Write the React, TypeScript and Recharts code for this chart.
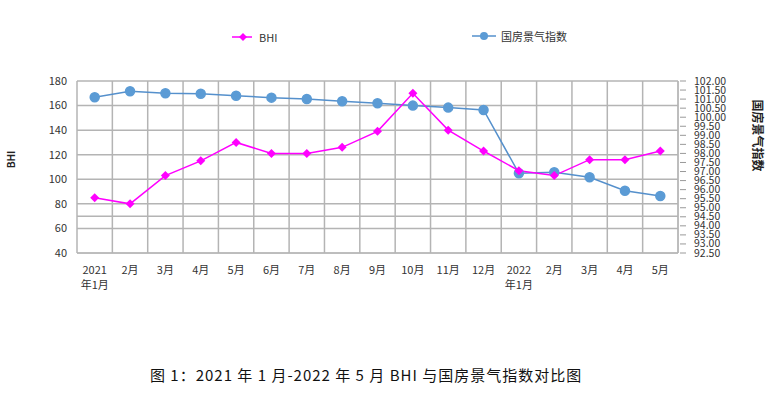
import { LineChart, Line, XAxis, YAxis, CartesianGrid, ReferenceLine } from 'recharts';

const months = [
  '2021\n年1月', '2月', '3月', '4月', '5月', '6月', '7月', '8月', '9月',
  '10月', '11月', '12月', '2022\n年1月', '2月', '3月', '4月', '5月',
];
const bhi = [85, 80, 103, 115, 130, 121, 121, 126, 139, 170, 140, 123, 107, 103, 116, 116, 123];
const guofang = [
  101.1, 101.43, 101.32, 101.3, 101.19, 101.08, 101.01, 100.88, 100.77,
  100.64, 100.53, 100.4, 96.9, 96.96, 96.68, 95.94, 95.65,
];
const leftTicks = [40, 60, 80, 100, 120, 140, 160, 180];
const rightTicks = [
  92.5, 93, 93.5, 94, 94.5, 95, 95.5, 96, 96.5, 97, 97.5, 98, 98.5, 99, 99.5,
  100, 100.5, 101, 101.5, 102,
];
// stray extra gridline visible in the original
const extraGridY = 70;

const data = months.map((m, i) => ({ month: m, bhi: bhi[i], gf: guofang[i] }));

const FONT = '"Noto Sans CJK SC", "Noto Sans", sans-serif';
const TXT = '#333';
const GRID = '#b4b4b4';

function MonthTick({ x, y, payload }: any) {
  const lines = String(payload.value).split('\n');
  return (
    <text x={x} y={y + 13} textAnchor="middle" fontSize={11} fill={TXT} fontFamily={FONT}>
      {lines.map((l, i) => (
        <tspan key={i} x={x} dy={i === 0 ? 0 : 15}>
          {l}
        </tspan>
      ))}
    </text>
  );
}

function RightTick({ x, y, payload }: any) {
  return (
    <g>
      <line x1={x - 6} x2={x} y1={y} y2={y} stroke="#999" />
      <text x={x + 8} y={y + 3.5} fontSize={10.5} fill={TXT} fontFamily={FONT}>
        {Number(payload.value).toFixed(2)}
      </text>
    </g>
  );
}

function Diamond({ cx, cy }: any) {
  if (cx == null || cy == null) return null;
  return <polygon points={`${cx},${cy - 4.5} ${cx + 4.5},${cy} ${cx},${cy + 4.5} ${cx - 4.5},${cy}`} fill="#ff00ff" />;
}

export default function App() {
  return (
    <div style={{ position: 'absolute', left: 0, top: 0, width: 773, height: 398, background: '#fff', fontFamily: FONT }}>
      <LineChart width={773} height={398} data={data} margin={{ top: 81, right: 35, left: 37, bottom: 105 }}>
        <CartesianGrid
          yAxisId="left"
          stroke={GRID}
          strokeWidth={1.5}
          verticalCoordinatesGenerator={({ offset }: any) =>
            Array.from({ length: months.length + 1 }, (_, i) => offset.left + (i * offset.width) / months.length)
          }
        />
        <ReferenceLine yAxisId="left" y={extraGridY} stroke={GRID} strokeWidth={1.5} />
        <XAxis
          dataKey="month"
          interval={0}
          tick={<MonthTick />}
          tickLine={false}
          axisLine={{ stroke: GRID }}
          height={40}
          padding={{ left: 17.7, right: 17.7 }}
        />
        <YAxis
          yAxisId="left"
          domain={[40, 180]}
          ticks={leftTicks}
          width={40}
          axisLine={false}
          tickLine={false}
          tick={{ fontSize: 11, fill: TXT, fontFamily: FONT }}
          tickMargin={4}
        />
        <YAxis
          yAxisId="right"
          orientation="right"
          domain={[92.5, 102]}
          ticks={rightTicks}
          interval={0}
          width={60}
          axisLine={{ stroke: GRID }}
          tickLine={false}
          tick={<RightTick />}
        />
        <Line
          yAxisId="right"
          dataKey="gf"
          stroke="#5590cc"
          strokeWidth={1.5}
          dot={{ r: 4.5, fill: '#5b9bd5', stroke: '#5b9bd5' }}
          isAnimationActive={false}
        />
        <Line
          yAxisId="left"
          dataKey="bhi"
          stroke="#ff00ff"
          strokeWidth={1.5}
          dot={<Diamond />}
          isAnimationActive={false}
        />
      </LineChart>

      {/* legend */}
      <div style={{ position: 'absolute', left: 231, top: 29, display: 'flex', alignItems: 'center', fontSize: 11, color: TXT }}>
        <svg width={22} height={10}>
          <line x1={1} x2={21} y1={5} y2={5} stroke="#ff00ff" strokeWidth={1.5} />
          <polygon points="12,1 16,5 12,9 8,5" fill="#ff00ff" />
        </svg>
        <span style={{ marginLeft: 6 }}>BHI</span>
      </div>
      <div style={{ position: 'absolute', left: 471, top: 28, display: 'flex', alignItems: 'center', fontSize: 11, color: TXT }}>
        <svg width={26} height={10}>
          <line x1={1} x2={25} y1={5} y2={5} stroke="#5590cc" strokeWidth={1.5} />
          <circle cx={13} cy={5} r={4} fill="#5b9bd5" />
        </svg>
        <span style={{ marginLeft: 4 }}>国房景气指数</span>
      </div>

      {/* axis titles */}
      <div style={{ position: 'absolute', left: 0, top: 152, width: 20, textAlign: 'center', transform: 'rotate(-90deg)', fontSize: 10, fontWeight: 'bold', color: '#222' }}>
        BHI
      </div>
      <div style={{ position: 'absolute', left: 718, top: 127, width: 80, textAlign: 'center', transform: 'rotate(90deg)', fontSize: 12, fontWeight: 'bold', color: '#222' }}>
        国房景气指数
      </div>

      {/* caption */}
      <div style={{ position: 'absolute', left: 150, top: 364, fontSize: 15, letterSpacing: 1, color: '#111', whiteSpace: 'pre' }}>
        图 1：2021 年 1 月-2022 年 5 月 BHI 与国房景气指数对比图
      </div>
    </div>
  );
}
